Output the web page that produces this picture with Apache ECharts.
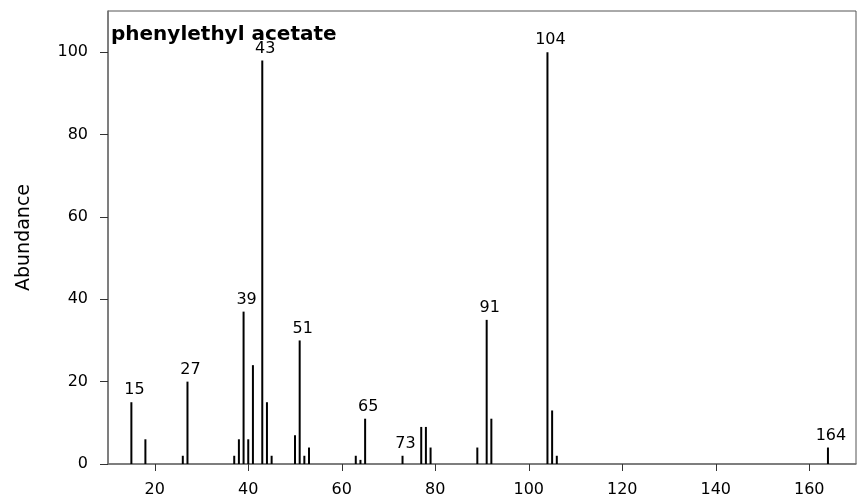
<!DOCTYPE html>
<html>
<head>
<meta charset="utf-8">
<script src="https://cdn.jsdelivr.net/npm/echarts@6/dist/echarts.min.js"></script>
<style>
  html, body { margin: 0; padding: 0; background: #fff; }
  #chart { width: 861px; height: 504px; }
</style>
</head>
<body>
<div id="chart"></div>
<script>
// Mass spectrum of phenylethyl acetate: m/z vs relative abundance
const massToCharge = [15, 18, 26, 27, 37, 38, 39, 40, 41, 43, 44, 45, 50, 51, 52, 53,
                      63, 64, 65, 73, 77, 78, 79, 89, 91, 92, 104, 105, 106, 164];
const abundance    = [15, 6, 2, 20, 2, 6, 37, 6, 24, 98, 15, 2, 7, 30, 2, 4,
                      2, 1, 11, 2, 9, 9, 4, 4, 35, 11, 100, 13, 2, 4];
// Peaks annotated with their m/z
const labeledPeaks = [15, 27, 39, 43, 51, 65, 73, 91, 104, 164];
const xTicks = [20, 40, 60, 80, 100, 120, 140, 160];
const yTicks = [0, 20, 40, 60, 80, 100];

const peaks = massToCharge.map((mz, i) => ({
  value: [mz, abundance[i]],
  label: { show: labeledPeaks.includes(mz) }
}));

const chart = echarts.init(document.getElementById('chart'), null, { renderer: 'canvas' });
const frameColor = '#555';
const textFont = 'DejaVu Sans';

chart.setOption({
  animation: false,
  backgroundColor: '#fff',
  title: {
    text: 'phenylethyl acetate',
    left: 111,
    top: 25,
    padding: 0,
    textStyle: { fontFamily: textFont, fontWeight: 'bold', fontSize: 20, color: '#000' }
  },
  grid: {
    left: 108, right: 5, top: 11, bottom: 40,
    show: true, borderColor: frameColor, borderWidth: 1, backgroundColor: 'transparent'
  },
  xAxis: {
    type: 'value',
    min: 10, max: 170,
    axisLine: { show: true, onZero: false, lineStyle: { color: '#707070', width: 1.5 } },
    axisTick: { show: true, inside: false, length: 7, customValues: xTicks, lineStyle: { color: '#333' } },
    axisLabel: {
      customValues: xTicks, margin: 18,
      fontFamily: textFont, fontSize: 16, color: '#000'
    },
    splitLine: { show: false }
  },
  yAxis: {
    type: 'value',
    min: 0, max: 110,
    name: 'Abundance',
    nameLocation: 'middle',
    nameGap: 74,
    nameTextStyle: { fontFamily: textFont, fontSize: 19, color: '#000' },
    axisLine: { show: true, lineStyle: { color: '#707070', width: 1.5 } },
    axisTick: { show: true, inside: false, length: 8, customValues: yTicks, lineStyle: { color: '#333' } },
    axisLabel: {
      customValues: yTicks, margin: 20,
      fontFamily: textFont, fontSize: 16, color: '#000'
    },
    splitLine: { show: false }
  },
  series: [{
    type: 'bar',
    data: peaks,
    barWidth: 2,
    itemStyle: { color: '#000' },
    label: {
      position: 'top',
      distance: 4,
      offset: [3, 0],
      fontFamily: textFont,
      fontSize: 16,
      color: '#000',
      formatter: p => String(p.value[0])
    }
  }]
});
</script>
</body>
</html>
